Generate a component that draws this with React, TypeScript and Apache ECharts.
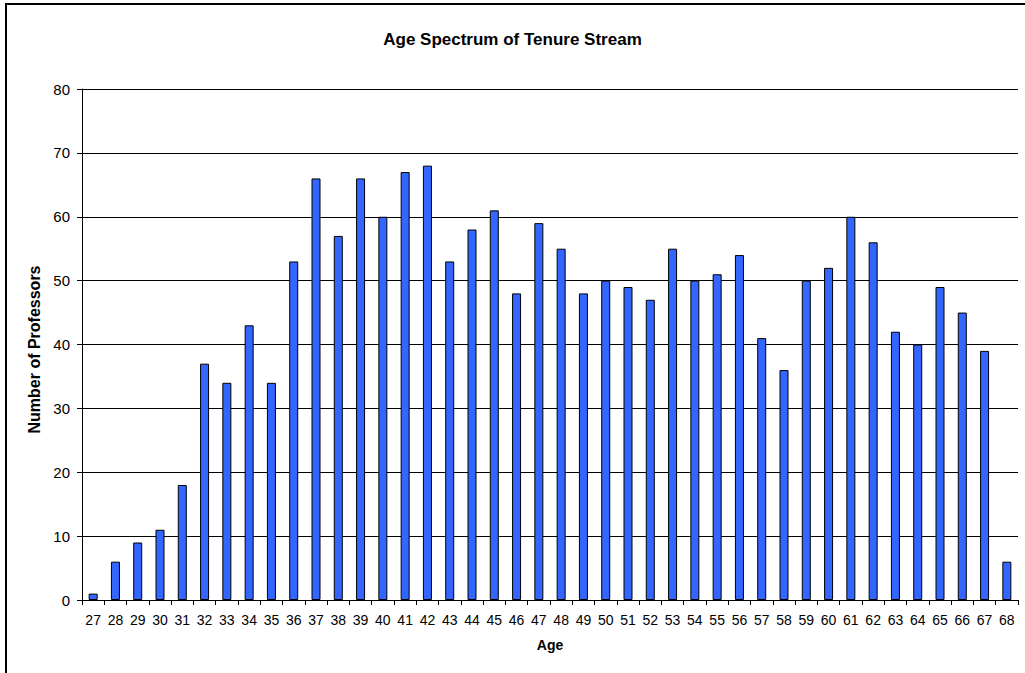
import React, { useEffect, useRef } from "react";
import * as echarts from "echarts";

const title = "Age Spectrum of Tenure Stream";
const xAxisName = "Age";
const yAxisName = "Number of Professors";
const ages = [
  "27", "28", "29", "30", "31", "32", "33", "34", "35", "36", "37", "38", "39", "40",
  "41", "42", "43", "44", "45", "46", "47", "48", "49", "50", "51", "52", "53", "54",
  "55", "56", "57", "58", "59", "60", "61", "62", "63", "64", "65", "66", "67", "68",
];
const professors = [
  1, 6, 9, 11, 18, 37, 34, 43, 34, 53, 66, 57, 66, 60,
  67, 68, 53, 58, 61, 48, 59, 55, 48, 50, 49, 47, 55, 50,
  51, 54, 41, 36, 50, 52, 60, 56, 42, 40, 49, 45, 39, 6,
];

const FONT = "Liberation Sans, Arial, sans-serif";

export default function App() {
  const ref = useRef<HTMLDivElement>(null);
  useEffect(() => {
    if (!ref.current) return;
    const chart = echarts.init(ref.current, null, { renderer: "svg" });
    chart.setOption({
      animation: false,
      backgroundColor: "#ffffff",
      textStyle: { fontFamily: FONT },
      title: {
        text: title,
        left: "center",
        top: 26,
        textStyle: { fontSize: 17, fontWeight: "bold", color: "#000", fontFamily: FONT },
      },
      graphic: [
        {
          type: "rect",
          shape: { x: 6, y: 4, width: 1200, height: 800 },
          style: { fill: "none", stroke: "#000", lineWidth: 2 },
          silent: true,
        },
      ],
      grid: { left: 82, right: 7, top: 89, bottom: 73 },
      xAxis: {
        type: "category",
        data: ages,
        name: xAxisName,
        nameLocation: "middle",
        nameGap: 38,
        nameTextStyle: { fontSize: 14, fontWeight: "bold", color: "#000", fontFamily: FONT },
        axisLine: { lineStyle: { color: "#000", width: 1 } },
        axisTick: { show: true, alignWithLabel: false, length: 5, lineStyle: { color: "#000" } },
        axisLabel: { color: "#000", fontSize: 14, margin: 13, interval: 0, fontFamily: FONT },
      },
      yAxis: {
        type: "value",
        min: 0,
        max: 80,
        interval: 10,
        name: yAxisName,
        nameLocation: "middle",
        nameGap: 34,
        nameRotate: 90,
        nameTextStyle: {
          fontSize: 16,
          fontWeight: "bold",
          color: "#000",
          fontFamily: FONT,
          padding: [0, 10, 0, 0],
        },
        axisLine: { show: true, lineStyle: { color: "#000", width: 1 } },
        axisTick: { show: true, length: 5, lineStyle: { color: "#000" } },
        axisLabel: { color: "#000", fontSize: 15, margin: 12, fontFamily: FONT },
        splitLine: { show: true, lineStyle: { color: "#000", width: 1 } },
      },
      series: [
        {
          type: "bar",
          data: professors,
          barWidth: 9,
          itemStyle: { color: "#3366FF", borderColor: "#000", borderWidth: 1 },
        },
      ],
    });
    return () => chart.dispose();
  }, []);
  return (
    <div
      ref={ref}
      style={{ position: "fixed", left: 0, top: 0, width: 1025, height: 673 }}
    />
  );
}
